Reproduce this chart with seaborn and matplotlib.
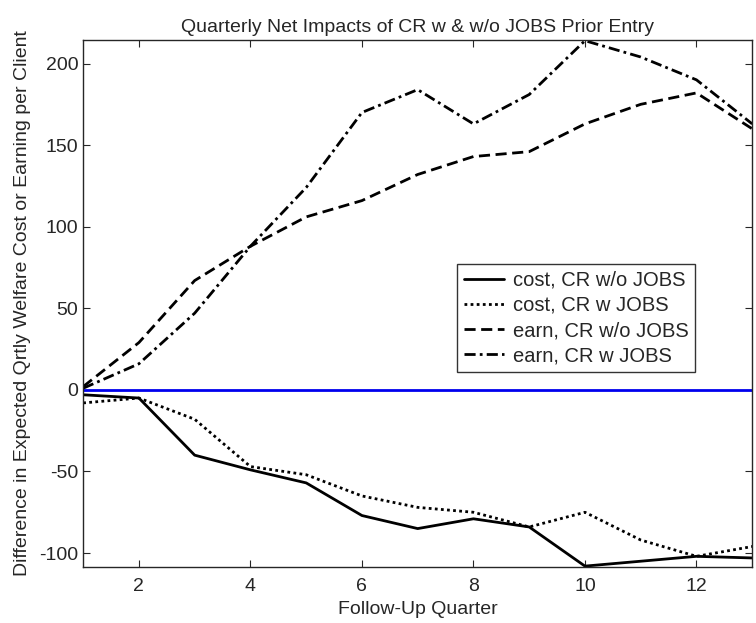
import numpy as np
import pandas as pd
import matplotlib
matplotlib.use('Agg')
import matplotlib.pyplot as plt
import seaborn as sns

# data
kuartal = list(range(1, 14))
cost_wo = [-3, -5, -40, -49, -57, -77, -85, -79, -84, -108, -105, -102, -103]
cost_w = [-8, -5, -18, -47, -52, -65, -72, -75, -84, -75, -92, -102, -96]
earn_wo = [2, 29, 67, 88, 106, 116, 132, 143, 146, 163, 175, 182, 160]
earn_w = [1, 16, 47, 88, 124, 170, 184, 163, 181, 214, 204, 190, 163]
nama_seri = ['cost, CR w/o JOBS', 'cost, CR w JOBS', 'earn, CR w/o JOBS', 'earn, CR w JOBS']

df = pd.DataFrame({
    'quarter': kuartal * 4,
    'value': cost_wo + cost_w + earn_wo + earn_w,
    'seri': [n for n in nama_seri for _ in kuartal],
})

sns.set_style('ticks')
plt.rcParams['font.family'] = ['Liberation Sans', 'DejaVu Sans']
plt.rcParams['axes.unicode_minus'] = False

fig = plt.figure(figsize=(7.56, 6.23), dpi=100)
ax = fig.add_axes([0.110, 0.090, 0.885, 0.846])

garis = {
    'cost, CR w/o JOBS': '',
    'cost, CR w JOBS': (1, 1.2),
    'earn, CR w/o JOBS': (4, 2),
    'earn, CR w JOBS': (4, 1.5, 1, 1.5),
}
sns.lineplot(data=df, x='quarter', y='value', style='seri', dashes=garis,
             color='black', linewidth=2, ax=ax)
ax.axhline(0, color='#0000ee', linewidth=2)

ax.set_xlim(1, 13)
ax.set_ylim(-108.5, 214.5)
ax.set_xticks([2, 4, 6, 8, 10, 12])
ax.set_yticks([-100, -50, 0, 50, 100, 150, 200])
ax.tick_params(axis='x', pad=8)
ax.tick_params(direction='in', top=True, right=True, labelsize=14, length=5)
for s in ax.spines.values():
    s.set_visible(True)
    s.set_linewidth(1)

ax.set_title('Quarterly Net Impacts of CR w & w/o JOBS Prior Entry', fontsize=14, pad=6)
ax.set_xlabel('Follow-Up Quarter', fontsize=14, labelpad=4)
ax.set_ylabel('Difference in Expected Qrtly Welfare Cost or Earning per Client', fontsize=14, labelpad=6)

leg = ax.legend(loc='upper left', bbox_to_anchor=(0.559, 0.575), borderaxespad=0,
                fontsize=14.5, frameon=True, fancybox=False, edgecolor='black',
                handlelength=2.0, handletextpad=0.4, labelspacing=0.3,
                borderpad=0.35, title=None)
leg.get_frame().set_linewidth(1)

plt.savefig('out.png', dpi=100)
